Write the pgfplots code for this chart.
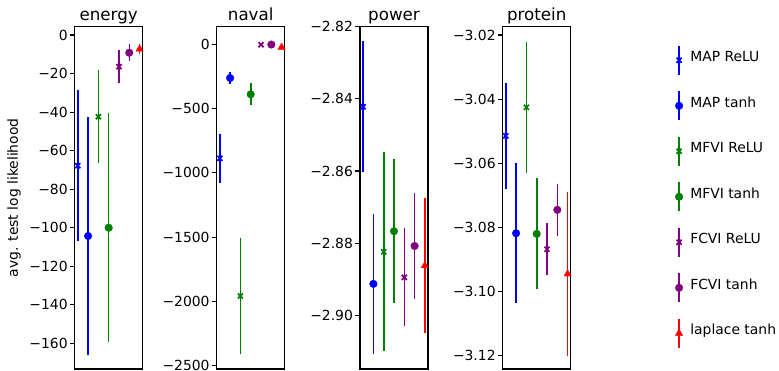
\documentclass[border=0pt]{standalone}
\usepackage{fontspec}
\setmainfont{DejaVu Sans}
\usepackage{pgfplots}
\pgfplotsset{compat=1.18}
\definecolor{mblue}{RGB}{0,0,255}
\definecolor{mgreen}{RGB}{0,128,0}
\definecolor{mpurple}{RGB}{128,0,128}
\definecolor{mred}{RGB}{255,0,0}
\newcommand{\tfont}{\fontsize{13.9pt}{16pt}\selectfont}
\newcommand{\hfont}{\fontsize{16.7pt}{19pt}\selectfont}
\pgfplotsset{
  panel/.style={
    scale only axis, width=68pt, height=342.3pt, anchor=south west,
    xmin=-0.3, xmax=6.3, xtick=\empty,
    axis line style={line width=1.1pt, black},
    ytick pos=left, ytick align=outside, major tick length=4.9pt,
    major tick style={line width=1.1pt, black},
    tick label style={font=\tfont},
    yticklabel style={inner xsep=2pt},
    title style={font=\hfont, at={(0.5,1)}, anchor=base, yshift=0.5pt},
    error bars/y dir=both, error bars/y explicit,
    error bars/error mark=none,
    error bars/error bar style={line width=1.6pt},
    clip=false,
  },
  mapr/.style={color=mblue, only marks, mark=x, mark size=3.6pt, mark options={line width=1.7pt}},
  mapt/.style={color=mblue, only marks, mark=*, mark size=3.8pt},
  mfvir/.style={color=mgreen, only marks, mark=x, mark size=3.6pt, mark options={line width=1.7pt}},
  mfvit/.style={color=mgreen, only marks, mark=*, mark size=3.8pt},
  fcvir/.style={color=mpurple, only marks, mark=x, mark size=3.6pt, mark options={line width=1.7pt}},
  fcvit/.style={color=mpurple, only marks, mark=*, mark size=3.8pt},
  lapt/.style={color=mred, only marks, mark=triangle*, mark size=4.2pt},
}
\begin{document}
\begin{tikzpicture}
\path[use as bounding box] (0pt,0pt) rectangle (779pt,370pt);
% energy
\begin{axis}[panel, at={(74.7pt,1pt)}, title={energy},
  ymin=-173.3, ymax=4.3,
  ytick={0,-20,-40,-60,-80,-100,-120,-140,-160},
  yticklabels={0,−20,−40,−60,−80,−100,−120,−140,−160},
  ylabel={avg. test log likelihood},
  every axis y label/.style={at={(axis description cs:-0.893,0.5)}, rotate=90, anchor=center, font=\tfont},
]
\addplot[mapr]  coordinates {(0,-67.8) +- (0,39.0)};
\addplot[mapt]  coordinates {(1,-104.3) +- (0,61.6)};
\addplot[mfvir] coordinates {(2,-42.4) +- (0,24.2)};
\addplot[mfvit] coordinates {(3,-100.0) +- (0,59.3)};
\addplot[fcvir] coordinates {(4,-16.4) +- (0,8.6)};
\addplot[fcvit] coordinates {(5,-9.2) +- (0,4.5)};
\addplot[lapt]  coordinates {(6,-7.3) +- (0,2.8)};
\end{axis}
% naval
\begin{axis}[panel, at={(216.7pt,1pt)}, title={naval},
  ymin=-2526, ymax=137,
  ytick={0,-500,-1000,-1500,-2000,-2500},
  yticklabels={0,−500,−1000,−1500,−2000,−2500},
]
\addplot[mapr]  coordinates {(0,-887) +- (0,192)};
\addplot[mapt]  coordinates {(1,-262) +- (0,49)};
\addplot[mfvir] coordinates {(2,-1958) +- (0,450)};
\addplot[mfvit] coordinates {(3,-389) +- (0,87)};
\addplot[fcvir] coordinates {(4,-3) +- (0,6)};
\addplot[fcvit] coordinates {(5,-2) +- (0,5)};
\addplot[lapt]  coordinates {(6,-23) +- (0,5)};
\end{axis}
% power
\begin{axis}[panel, at={(360pt,1pt)}, title={power},
  ymin=-2.9149, ymax=-2.82,
  ytick={-2.82,-2.84,-2.86,-2.88,-2.90},
  yticklabels={−2.82,−2.84,−2.86,−2.88,−2.90},
]
\addplot[mapr]  coordinates {(0,-2.8422) +- (0,0.0182)};
\addplot[mapt]  coordinates {(1,-2.8913) +- (0,0.0194)};
\addplot[mfvir] coordinates {(2,-2.8824) +- (0,0.0276)};
\addplot[mfvit] coordinates {(3,-2.8767) +- (0,0.0200)};
\addplot[fcvir] coordinates {(4,-2.8895) +- (0,0.0136)};
\addplot[fcvit] coordinates {(5,-2.8808) +- (0,0.0147)};
\addplot[lapt]  coordinates {(6,-2.8862) +- (0,0.0188)};
\end{axis}
% protein
\begin{axis}[panel, at={(502.7pt,1pt)}, title={protein},
  ymin=-3.1243, ymax=-3.0174,
  ytick={-3.02,-3.04,-3.06,-3.08,-3.10,-3.12},
  yticklabels={−3.02,−3.04,−3.06,−3.08,−3.10,−3.12},
  legend style={at={(axis description cs:2.491,0.953)}, anchor=north west, draw=none, fill=none, font=\tfont, row sep=14.9pt, cells={anchor=west}},
  legend image code/.code={\draw[#1, mark=none, line width=1.6pt] (0pt,-17.5pt) -- (0pt,11.5pt); \draw[#1] plot coordinates {(0pt,-3pt)}; \path (9pt,0pt);},
]
\addplot[mapr]  coordinates {(0,-3.0515) +- (0,0.0165)};
\addplot[mapt]  coordinates {(1,-3.0819) +- (0,0.0218)};
\addplot[mfvir] coordinates {(2,-3.0426) +- (0,0.0205)};
\addplot[mfvit] coordinates {(3,-3.0821) +- (0,0.0173)};
\addplot[fcvir] coordinates {(4,-3.0869) +- (0,0.0081)};
\addplot[fcvit] coordinates {(5,-3.0746) +- (0,0.0081)};
\addplot[lapt]  coordinates {(6,-3.0946) +- (0,0.0255)};
\legend{MAP ReLU, MAP tanh, MFVI ReLU, MFVI tanh, FCVI ReLU, FCVI tanh, laplace tanh}
\end{axis}
\end{tikzpicture}
\end{document}
